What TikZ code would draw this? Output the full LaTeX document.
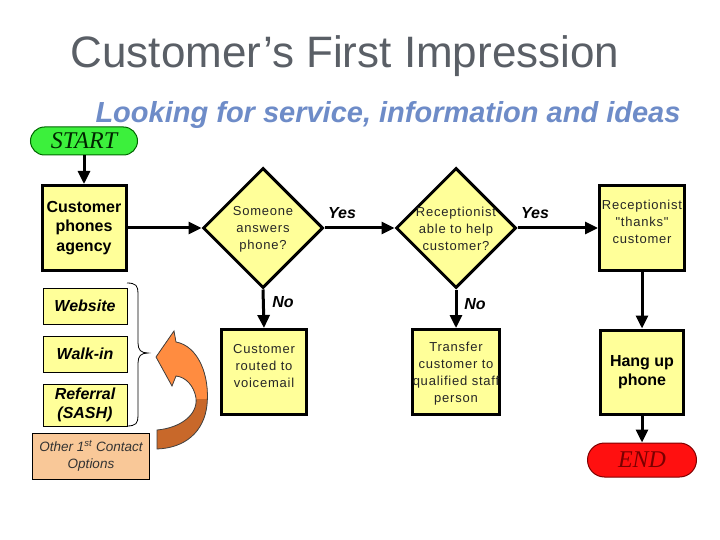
\documentclass[tikz,border=0pt]{standalone}
\usepackage{fontspec}
\usetikzlibrary{shapes.geometric,arrows.meta}
\newfontfamily\arialf{Liberation Sans}
\newfontfamily\arialsp[LetterSpace=6]{Liberation Sans}
\newfontfamily\tnrf{Liberation Serif}
\definecolor{boxyel}{HTML}{FFFF99}
\definecolor{startgreen}{HTML}{3CF03C}
\definecolor{endred}{HTML}{FF1010}
\definecolor{endtext}{HTML}{7A0000}
\definecolor{peach}{HTML}{F9C898}
\definecolor{orlight}{HTML}{FF8C40}
\definecolor{ordark}{HTML}{C8682A}
\definecolor{titlegray}{HTML}{5A5F66}
\definecolor{subblue}{HTML}{6E8CC8}
\tikzset{
  flowbox/.style={draw=black, line width=3pt, fill=boxyel, align=center, inner sep=0pt},
  boldtxt/.style={font=\arialf\bfseries\fontsize{16}{19.5}\selectfont},
  thintxt/.style={font=\arialsp\fontsize{13}{17}\selectfont, text=black!85, align=center},
  dia/.style={draw=black, line width=3pt, fill=boxyel, shape=diamond, aspect=1, minimum width=120pt, minimum height=120pt, inner sep=0pt},
  optbox/.style={draw=black, line width=1pt, fill=boxyel, align=center, inner sep=0pt, minimum width=84pt, font=\arialf\bfseries\itshape\fontsize{16}{19.5}\selectfont},
  term/.style={rounded corners=14pt, line width=1pt, inner sep=0pt, font=\tnrf\itshape\fontsize{24}{26}\selectfont},
  arr/.style={line width=3pt, -{Triangle[length=13pt,width=12pt]}},
  yn/.style={font=\arialf\bfseries\itshape\fontsize{16}{19}\selectfont}
}
\begin{document}
\begin{tikzpicture}[x=1pt,y=-1pt]
\useasboundingbox[fill=white] (0,0) rectangle (720,540);

% titles
\node[font=\arialf\fontsize{44}{48}\selectfont, text=titlegray] (title) at (345,56) {Customer’s First Impression};
\node[font=\arialf\bfseries\itshape\fontsize{29}{32}\selectfont, text=subblue] (sub) at (388,115) {Looking for service, information and ideas};

% terminators
\node[term, draw=green!40!black, fill=startgreen, minimum width=107pt, minimum height=28pt, text=green!15!black] (start) at (84,141) {START};
\node[term, draw=red!50!black, fill=endred, minimum width=109pt, minimum height=34pt, rounded corners=17pt, text=endtext] (end) at (642,460) {END};

% main boxes
\node[flowbox, boldtxt, minimum width=84pt, minimum height=85pt] (phones) at (84,228) {Customer\\phones\\agency};
\node[dia] (d1) at (263,228) {};
\node[thintxt] (d1t) at (263,229) {Someone\\answers\\phone?};
\node[dia] (d2) at (456,228) {};
\node[thintxt] (d2t) at (456,229) {Receptionist\\able to help\\customer?};
\node[flowbox, minimum width=85pt, minimum height=85pt] (thanks) at (642,228) {};
\node[thintxt] (thankst) at (642,222) {Receptionist\\"thanks"\\customer};
\node[flowbox, minimum width=85pt, minimum height=85pt] (vm) at (264,372) {};
\node[thintxt] (vmt) at (264,366) {Customer\\routed to\\voicemail};
\node[flowbox, minimum width=87pt, minimum height=85pt] (tr) at (456,372) {};
\node[thintxt] (trt) at (456,374) {Transfer\\customer to\\qualified staff\\person};
\node[flowbox, boldtxt, minimum width=83pt, minimum height=84pt] (hang) at (642,372) {Hang up\\phone};

% option boxes
\node[optbox, minimum height=36pt] (web) at (85,306) {Website};
\node[optbox, minimum height=36pt] (walk) at (85,354) {Walk-in};
\node[optbox, minimum height=42pt] (ref) at (85,405) {Referral\\(SASH)};
\node[draw=black, line width=1pt, fill=peach, align=center, inner sep=0pt, minimum width=117pt, minimum height=46pt, text=black!80, font=\arialf\itshape\fontsize{13.5}{17}\selectfont] (other) at (91,456) {Other 1\textsuperscript{st} Contact\\Options};

% connectors
\draw[arr] (start) -- (phones);
\draw[arr] (phones.east) -- (d1.west);
\draw[arr] (d1.east) -- (d2.west);
\draw[arr] (d2.east) -- (thanks.west);
\draw[arr] (d1.south) -- (vm.north);
\draw[arr] (d2.south) -- (tr.north);
\draw[arr] (thanks.south) -- (hang.north);
\draw[arr] (hang.south) -- (end.north);

% labels
\node[yn] (y1) at (342,213) {Yes};
\node[yn] (y2) at (535,213) {Yes};
\node[yn] (n1) at (283,302) {No};
\node[yn] (n2) at (475,304) {No};

% brace
\draw[line width=0.8pt] (127,283) .. controls (136,283) and (138,286) .. (138,293) -- (138,343) .. controls (138,350) and (141,353) .. (148,353) .. controls (141,353) and (138,356) .. (138,363) -- (138,416) .. controls (138,423) and (136,426) .. (127,426);

% curved orange arrow
\def\curlpath{(156,357) -- (174,331) -- (176,342) .. controls (198,346) and (210,375) .. (207,405) .. controls (204,432) and (185,448) .. (157,449) -- (157,430) .. controls (180,428) and (198,415) .. (196,398) .. controls (194,386) and (186,377) .. (176,376) -- (172,386) -- cycle}
\fill[ordark] \curlpath;
\begin{scope}
\clip (150,320) rectangle (215,398);
\fill[orlight] \curlpath;
\end{scope}
\draw[line width=0.8pt, draw=black!75] \curlpath;
\end{tikzpicture}
\end{document}
